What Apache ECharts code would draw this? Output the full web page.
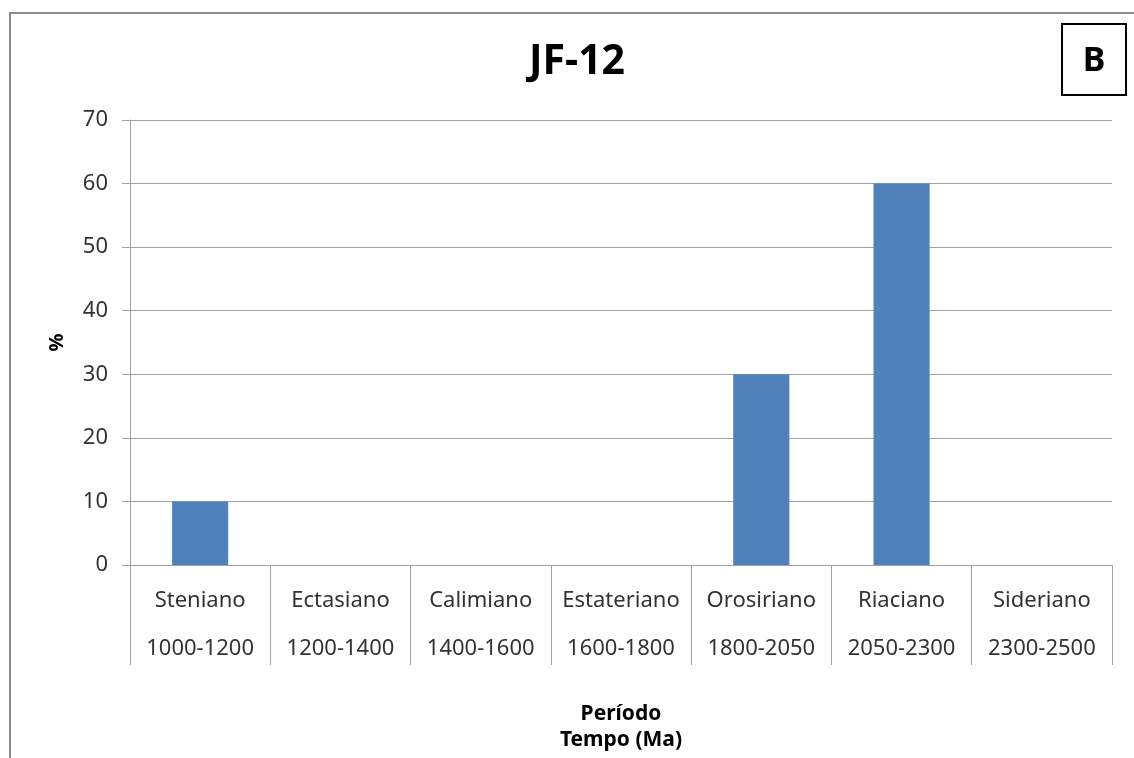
<!DOCTYPE html>
<html>
<head>
<meta charset="utf-8">
<script src="https://cdn.jsdelivr.net/npm/echarts@6/dist/echarts.min.js"></script>
<style>
html,body{margin:0;padding:0;background:#fff;}
#chart{width:1134px;height:758px;}
</style>
</head>
<body>
<div id="chart"></div>
<script>
var periods = ['Steniano','Ectasiano','Calimiano','Estateriano','Orosiriano','Riaciano','Sideriano'];
var ranges = ['1000-1200','1200-1400','1400-1600','1600-1800','1800-2050','2050-2300','2300-2500'];
var percent = [10, 0, 0, 0, 30, 60, 0];
var yTicks = {min: 0, max: 70, interval: 10};

var categories = periods.map(function (p, i) { return p + '\n' + ranges[i]; });
var FONT = '"Noto Sans", "Open Sans", sans-serif';

var chart = echarts.init(document.getElementById('chart'), null, {renderer: 'canvas'});
chart.setOption({
  backgroundColor: '#fff',
  animation: false,
  title: {
    text: 'JF-12',
    left: 572, top: 37,
    textAlign: 'center',
    textStyle: {fontFamily: FONT, fontWeight: 'bold', fontSize: 41, color: '#000'}
  },
  graphic: [
    {type: 'rect', shape: {x: 10, y: 13, width: 1300, height: 1000},
     style: {fill: 'none', stroke: '#8c8c8c', lineWidth: 2}, silent: true},
    {type: 'rect', shape: {x: 1062, y: 24, width: 64, height: 71},
     style: {fill: '#fff', stroke: '#000', lineWidth: 2}, silent: true},
    {type: 'text', x: 1094, y: 61,
     style: {text: 'B', fontFamily: FONT, fontWeight: 'bold', fontSize: 34, fill: '#000',
             textAlign: 'center', textVerticalAlign: 'middle'}, silent: true}
  ],
  grid: {left: 130, right: 22, top: 120, bottom: 192, containLabel: false},
  xAxis: {
    type: 'category',
    data: categories,
    name: 'Período\nTempo (Ma)',
    nameLocation: 'middle',
    nameGap: 136,
    nameTextStyle: {fontFamily: FONT, fontWeight: 'bold', fontSize: 21, color: '#000', lineHeight: 26},
    axisLine: {lineStyle: {color: '#a0a0a0', width: 1}},
    axisTick: {show: true, length: 100, interval: 0, lineStyle: {color: '#a0a0a0'}},
    axisLabel: {interval: 0, margin: 12, fontFamily: FONT, fontSize: 22, color: '#333', lineHeight: 48},
    splitLine: {show: false}
  },
  yAxis: {
    type: 'value',
    min: yTicks.min, max: yTicks.max, interval: yTicks.interval,
    name: '%',
    nameLocation: 'middle',
    nameRotate: 90,
    nameGap: 63,
    nameTextStyle: {fontFamily: FONT, fontWeight: 'bold', fontSize: 20, color: '#000'},
    axisLine: {show: true, lineStyle: {color: '#a0a0a0'}},
    axisTick: {show: true, length: 8, lineStyle: {color: '#a0a0a0'}},
    axisLabel: {margin: 22, fontFamily: FONT, fontSize: 22, color: '#333'},
    splitLine: {show: true, lineStyle: {color: '#a0a0a0', width: 1}}
  },
  series: [{
    type: 'bar',
    data: percent,
    barWidth: '40%',
    itemStyle: {color: '#4f81bd', borderWidth: 0}
  }]
});
</script>
</body>
</html>
